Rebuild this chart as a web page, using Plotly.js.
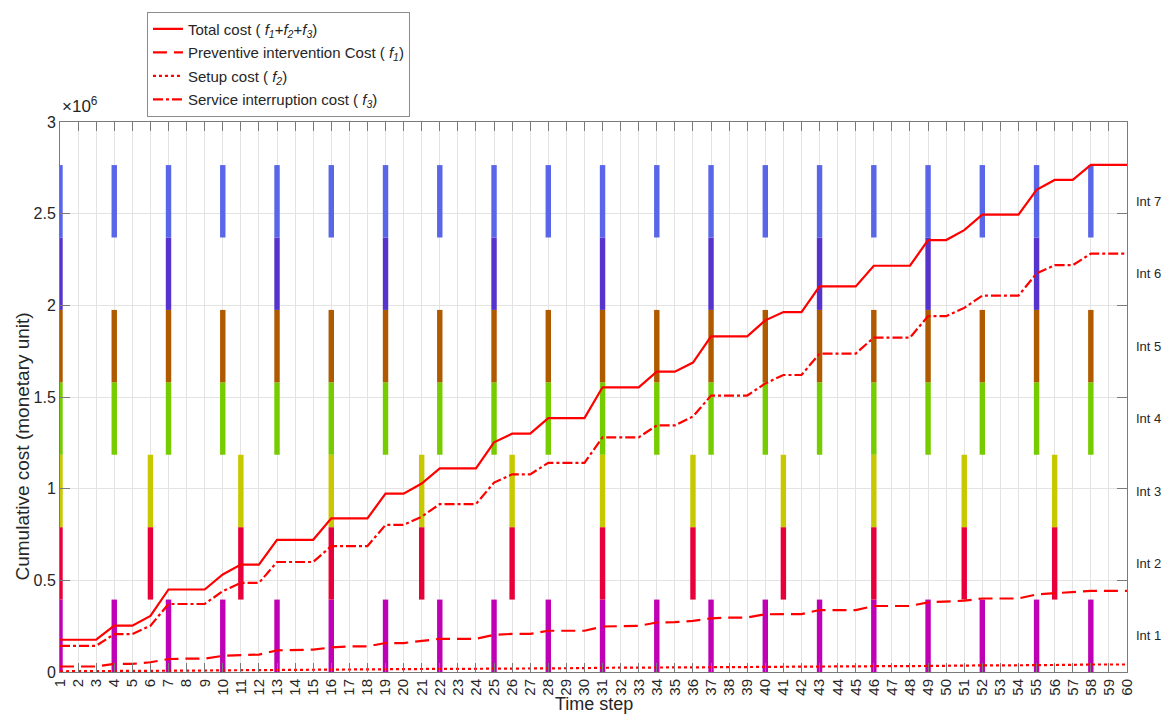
<!DOCTYPE html>
<html>
<head>
<meta charset="utf-8">
<script src="https://cdn.plot.ly/plotly-3.0.1.min.js"></script>
<style>
  html, body { margin: 0; padding: 0; background: #ffffff; }
  #chart { width: 1163px; height: 716px; }
</style>
</head>
<body>
<div id="chart"></div>
<script>
// ---------------- DATA (cumulative cost, in units of 10^6) ----------------
const steps = [1,2,3,4,5,6,7,8,9,10,11,12,13,14,15,16,17,18,19,20,21,22,23,24,25,26,27,28,29,30,
               31,32,33,34,35,36,37,38,39,40,41,42,43,44,45,46,47,48,49,50,51,52,53,54,55,56,57,58,59,60];

const totalCost = [0.176,0.176,0.176,0.253,0.253,0.306,0.450,0.450,0.450,0.532,0.586,0.586,0.721,0.721,0.721,
                   0.838,0.838,0.838,0.973,0.973,1.028,1.111,1.111,1.111,1.253,1.300,1.300,1.385,1.385,1.385,
                   1.553,1.553,1.553,1.638,1.638,1.688,1.831,1.831,1.831,1.918,1.963,1.963,2.103,2.103,2.103,
                   2.216,2.216,2.216,2.356,2.356,2.410,2.495,2.495,2.495,2.630,2.684,2.684,2.766,2.766,2.766];

const preventiveCost = [0.030,0.030,0.030,0.044,0.044,0.053,0.071,0.073,0.073,0.088,0.091,0.095,0.118,0.122,0.122,
                        0.134,0.140,0.140,0.158,0.158,0.171,0.181,0.181,0.181,0.203,0.208,0.208,0.225,0.225,0.225,
                        0.248,0.252,0.252,0.270,0.272,0.279,0.293,0.297,0.297,0.315,0.316,0.316,0.338,0.338,0.338,
                        0.360,0.360,0.360,0.380,0.383,0.389,0.401,0.401,0.401,0.423,0.429,0.434,0.443,0.443,0.443];

const setupCost = [0.004,0.004,0.004,0.006,0.006,0.007,0.008,0.008,0.008,0.009,0.010,0.010,0.011,0.011,0.011,
                   0.013,0.013,0.013,0.015,0.015,0.016,0.017,0.017,0.017,0.019,0.020,0.020,0.021,0.021,0.021,
                   0.023,0.023,0.023,0.024,0.024,0.025,0.027,0.027,0.027,0.028,0.029,0.029,0.030,0.030,0.030,
                   0.032,0.032,0.032,0.034,0.034,0.035,0.036,0.036,0.036,0.038,0.039,0.039,0.041,0.041,0.041];

const interruptionCost = [0.143,0.143,0.143,0.207,0.207,0.252,0.371,0.371,0.371,0.441,0.486,0.486,0.600,0.600,0.600,
                          0.687,0.687,0.687,0.802,0.802,0.847,0.916,0.916,0.916,1.033,1.078,1.078,1.141,1.141,1.141,
                          1.280,1.280,1.280,1.345,1.345,1.394,1.508,1.508,1.508,1.574,1.620,1.620,1.737,1.737,1.737,
                          1.824,1.824,1.824,1.941,1.941,1.986,2.053,2.053,2.053,2.174,2.219,2.219,2.282,2.282,2.282];

// Intervention schedule: time steps at which each intervention type is applied
const interventionLabels = ["Int 1","Int 2","Int 3","Int 4","Int 5","Int 6","Int 7"];
const int1Steps = [1,4,7,10,13,16,19,22,25,28,31,34,37,40,43,46,49,52,55,58];
const int2Steps = [1,6,11,16,21,26,31,36,41,46,51,56];
const int3Steps = [1,6,11,16,21,26,31,36,41,46,51,56];
const int4Steps = [1,4,7,10,13,16,19,22,25,28,31,34,37,40,43,46,49,52,55,58];
const int5Steps = [1,4,7,10,13,16,19,22,25,28,31,34,37,40,43,46,49,52,55,58];
const int6Steps = [1,7,13,19,25,31,37,43,49,55];
const int7Steps = [1,4,7,10,13,16,19,22,25,28,31,34,37,40,43,46,49,52,55,58];
const intervalBand = 0.395;   // height of each intervention band on the cost scale

const seriesNames = [
  "Total cost ( <i>f</i><sub><i>1</i></sub>+<i>f</i><sub><i>2</i></sub>+<i>f</i><sub><i>3</i></sub>)",
  "Preventive intervention Cost ( <i>f</i><sub><i>1</i></sub>)",
  "Setup cost ( <i>f</i><sub><i>2</i></sub>)",
  "Service interruption cost ( <i>f</i><sub><i>3</i></sub>)"
];

// ---------------- STYLE ----------------
const FONT = "Liberation Sans, Arial, Helvetica, sans-serif";
const TXT = "#262626";
const intColors = ["#C000B4", "#E8003A", "#C8C800", "#77CC00", "#B05A00", "#5533CC", "#5A66E8"];
const intSteps = [int1Steps, int2Steps, int3Steps, int4Steps, int5Steps, int6Steps, int7Steps];

const traces = [];

// Intervention bands (stacked vertical bars)
intSteps.forEach((st, k) => {
  traces.push({
    type: "bar",
    x: st,
    y: st.map(() => intervalBand),
    base: st.map(() => k * intervalBand),
    width: 0.3,
    marker: { color: intColors[k], line: { width: 0 } },
    showlegend: false,
    hoverinfo: "skip",
    name: interventionLabels[k]
  });
});

// Cost curves
traces.push({
  type: "scatter", mode: "lines", x: steps, y: totalCost, name: seriesNames[0],
  line: { color: "#FF0000", width: 2.2 }, legendgroup: "a"
});
traces.push({
  type: "scatter", mode: "lines", x: steps, y: preventiveCost, name: seriesNames[1],
  line: { color: "#FF0000", width: 2.2, dash: "14px,7px" }, legendgroup: "b"
});
traces.push({
  type: "scatter", mode: "lines", x: steps, y: setupCost, name: seriesNames[2],
  line: { color: "#FF0000", width: 2.2, dash: "3px,3px" }, legendgroup: "c"
});
traces.push({
  type: "scatter", mode: "lines", x: steps, y: interruptionCost, name: seriesNames[3],
  line: { color: "#FF0000", width: 2.2, dash: "10px,3px,3px,3px" }, legendgroup: "d"
});

// invisible carrier trace for the right-hand intervention label axis
traces.push({
  type: "scatter", mode: "markers", x: [steps[0]], y: [0], yaxis: "y2",
  marker: { opacity: 0 }, showlegend: false, hoverinfo: "skip"
});

const layout = {
  width: 1163, height: 716,
  paper_bgcolor: "#ffffff", plot_bgcolor: "#ffffff",
  font: { family: FONT, color: TXT, size: 15 },
  margin: { l: 60, r: 36, t: 119, b: 44, pad: 0 },
  barmode: "overlay",
  showlegend: true,
  legend: {
    x: 0.0815, y: 1.2007, xanchor: "left", yanchor: "top",
    bgcolor: "#ffffff", bordercolor: "#8c8c8c", borderwidth: 1,
    font: { family: FONT, size: 15, color: TXT },
    traceorder: "grouped", tracegroupgap: 1,
    itemwidth: 30
  },
  xaxis: {
    range: [1, 60], autorange: false,
    tickmode: "array", tickvals: steps, ticktext: steps.map(String),
    tickangle: -90,
    tickfont: { family: FONT, size: 15, color: TXT },
    ticks: "inside", ticklen: 9, tickcolor: "#7a7a7a", tickwidth: 1,
    showline: true, linecolor: "#7a7a7a", linewidth: 1, mirror: "ticks",
    showgrid: true, gridcolor: "#e3e3e3", gridwidth: 1,
    zeroline: false, automargin: false
  },
  yaxis: {
    range: [0, 3], autorange: false,
    tickmode: "array", tickvals: [0, 0.5, 1, 1.5, 2, 2.5, 3],
    ticktext: ["0", "0.5", "1", "1.5", "2", "2.5", "3"],
    tickfont: { family: FONT, size: 16, color: TXT },
    ticks: "inside", ticklen: 10, tickcolor: "#7a7a7a", tickwidth: 1,
    showline: true, linecolor: "#7a7a7a", linewidth: 1, mirror: "ticks",
    showgrid: true, gridcolor: "#e3e3e3", gridwidth: 1,
    zeroline: false, automargin: false
  },
  yaxis2: {
    overlaying: "y", side: "right",
    range: [0, 3], autorange: false,
    tickmode: "array",
    tickvals: interventionLabels.map((_, k) => (k + 0.5) * intervalBand),
    ticktext: interventionLabels,
    tickfont: { family: FONT, size: 13, color: TXT },
    ticks: "", showline: false, showgrid: false, zeroline: false,
    ticklabelstandoff: 8, automargin: false
  },
  annotations: [
    {
      text: "×10<sup>6</sup>", xref: "paper", yref: "paper", x: 0, y: 1,
      xanchor: "left", yanchor: "bottom", yshift: 4, showarrow: false,
      font: { family: FONT, size: 17, color: TXT }
    },
    {
      text: "Time step", xref: "paper", yref: "paper", x: 0.5, y: 0,
      xanchor: "center", yanchor: "middle", yshift: -32, showarrow: false,
      font: { family: FONT, size: 18, color: TXT }
    },
    {
      text: "Cumulative cost (monetary unit)", xref: "paper", yref: "paper",
      x: -0.0356, y: 0.41, xanchor: "center", yanchor: "middle", textangle: -90,
      showarrow: false, font: { family: FONT, size: 19, color: TXT }
    }
  ]
};

Plotly.newPlot("chart", traces, layout, { staticPlot: true, displayModeBar: false });
</script>
</body>
</html>
